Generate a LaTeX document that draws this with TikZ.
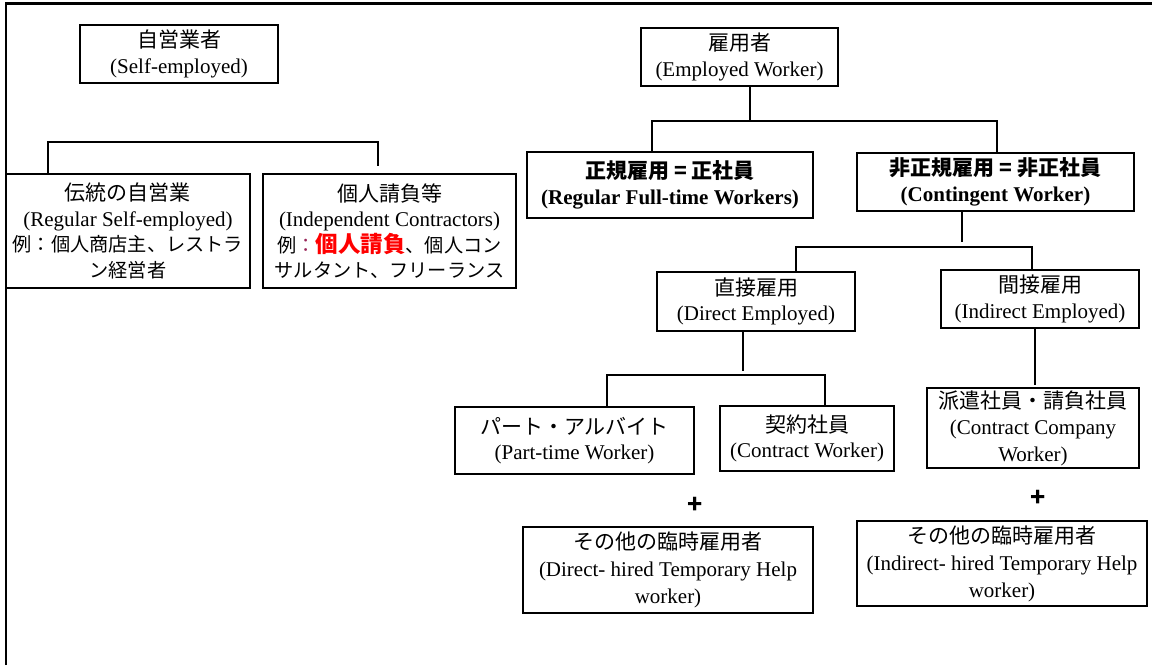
\documentclass[tikz,border=0pt]{standalone}
\usepackage{fontspec}
\setmainfont{Liberation Serif}
\newfontfamily\jp{Noto Sans CJK JP}
\definecolor{colonred}{rgb}{0.6,0.15,0.35}
\tikzset{
  box/.style={draw, line width=1.2pt, align=center, inner sep=0pt, font=\fontsize{21}{25.5}\selectfont},
  conn/.style={line width=1.2pt},
  frameline/.style={line width=2.6pt},
  plus/.style={font=\fontsize{25}{25}\selectfont\jp\bfseries}
}
\newcommand{\exline}[1]{{\jp\fontsize{19.2}{25}\selectfont #1}}
\begin{document}
\begin{tikzpicture}[x=1pt,y=-1pt]
\useasboundingbox (0,0) rectangle (1152,665);
\draw[frameline] (6,665) -- (6,3.5) -- (1152,3.5);

% left group
\node[box, minimum width=198pt, minimum height=58pt] (selfemp) at (179,54) {{\jp 自営業者}\\(Self-employed)};
\node[box, minimum width=244pt, minimum height=114pt] (trad) at (128,231) {{\jp 伝統の自営業}\\(Regular Self-employed)\\\exline{例：個人商店主、レストラ}\\\exline{ン経営者}};
\node[box, minimum width=253pt, minimum height=114pt] (indep) at (389.5,231) {{\jp 個人請負等}\\(Independent Contractors)\\\exline{例\textcolor{colonred}{：}\textcolor{red}{\bfseries\fontsize{22.5}{25}\selectfont 個人請負}、個人コン}\\\exline{サルタント、フリーランス}};

\coordinate (sL) at (48,142);
\coordinate (sR) at (378,142);
\coordinate (sRend) at (378,166);
\draw[conn] (sL |- trad.north) -- (sL) -- (sR) -- (sRend);

% right group
\node[box, minimum width=197pt, minimum height=58pt] (employed) at (739.5,57) {{\jp 雇用者}\\(Employed Worker)};
\node[box, minimum width=286pt, minimum height=66pt, font=\fontsize{21}{26}\selectfont\bfseries] (regular) at (670,185) {{\jp 正規雇用 = 正社員}\\(Regular Full-time Workers)};
\node[box, minimum width=277pt, minimum height=58pt, font=\fontsize{21}{26}\selectfont\bfseries] (contingent) at (995.5,182) {{\jp 非正規雇用 = 非正社員}\\(Contingent Worker)};

\coordinate (eM) at (750,121);
\coordinate (eL) at (652,121);
\coordinate (eR) at (997,121);
\draw[conn] (employed.south -| eM) -- (eM);
\draw[conn] (eL |- regular.north) -- (eL) -- (eR) -- (eR |- contingent.north);

\node[box, minimum width=198pt, minimum height=59pt] (direct) at (756,301.5) {{\jp 直接雇用}\\(Direct Employed)};
\node[box, minimum width=198pt, minimum height=58pt] (indirect) at (1040,299) {{\jp 間接雇用}\\(Indirect Employed)};

\coordinate (cM) at (962,242);
\coordinate (cL) at (796,247);
\coordinate (cR) at (1032,247);
\draw[conn] (contingent.south -| cM) -- (cM);
\draw[conn] (cL |- direct.north) -- (cL) -- (cR) -- (cR |- indirect.north);

\node[box, minimum width=239pt, minimum height=67pt] (part) at (574.5,440.5) {{\jp パート・アルバイト}\\(Part-time Worker)};
\node[box, minimum width=174pt, minimum height=65pt] (contract) at (807,438.5) {{\jp 契約社員}\\(Contract Worker)};
\node[box, minimum width=212pt, minimum height=80pt, font=\fontsize{21}{26.5}\selectfont] (dispatch) at (1033,428) {{\jp 派遣社員・請負社員}\\(Contract Company\\Worker)};

\coordinate (dM) at (743,371);
\coordinate (dL) at (607,375);
\coordinate (dR) at (825,375);
\draw[conn] (direct.south -| dM) -- (dM);
\draw[conn] (dL |- part.north) -- (dL) -- (dR) -- (dR |- contract.north);

\coordinate (iM) at (1035,385);
\draw[conn] (indirect.south -| iM) -- (iM);

\node[plus] (plus1) at (695,505) {+};
\node[plus] (plus2) at (1038,498) {+};

\node[box, minimum width=290pt, minimum height=86pt, font=\fontsize{21}{27}\selectfont] (otherL) at (668,570) {{\jp その他の臨時雇用者}\\(Direct- hired Temporary Help\\worker)};
\node[box, minimum width=290pt, minimum height=85pt, font=\fontsize{21}{27}\selectfont] (otherR) at (1002,563.5) {{\jp その他の臨時雇用者}\\(Indirect- hired Temporary Help\\worker)};
\end{tikzpicture}
\end{document}
